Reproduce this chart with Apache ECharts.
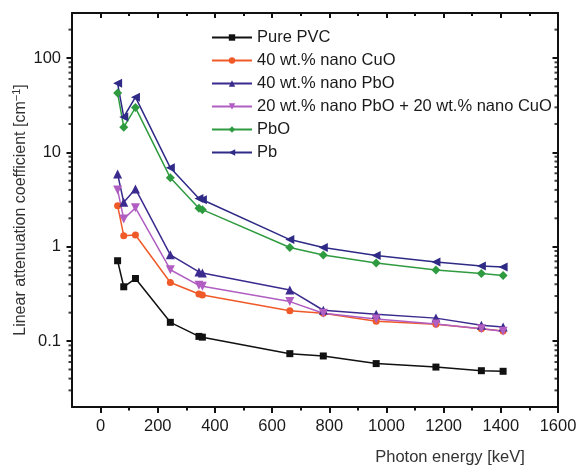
<!DOCTYPE html>
<html>
<head>
<meta charset="utf-8">
<script src="https://cdn.jsdelivr.net/npm/echarts@6/dist/echarts.min.js"></script>
<style>html,body{margin:0;padding:0;background:#fff;}#c{width:577px;height:466px;}</style>
</head>
<body>
<div id="c"></div>
<script>
// ---- data ----
const energies = [59.5, 81, 122, 244, 344, 356, 662, 779, 964, 1173, 1332, 1408];
const purePVC = [0.71, 0.376, 0.46, 0.158, 0.112, 0.110, 0.0735, 0.0695, 0.0577, 0.053, 0.0485, 0.0478];
const cuo40 = [2.72, 1.31, 1.33, 0.418, 0.315, 0.307, 0.209, 0.197, 0.162, 0.151, 0.135, 0.128];
const pbo40 = [5.9, 2.96, 4.1, 0.82, 0.54, 0.525, 0.347, 0.212, 0.192, 0.175, 0.147, 0.141];
const mix2020 = [4.0, 1.97, 2.58, 0.57, 0.39, 0.38, 0.262, 0.197, 0.171, 0.152, 0.135, 0.127];
const pbo = [42.5, 18.5, 29.8, 5.37, 2.55, 2.47, 0.98, 0.816, 0.671, 0.565, 0.521, 0.496];
const pb = [54, 23.7, 38.5, 6.86, 3.25, 3.15, 1.19, 0.98, 0.808, 0.688, 0.624, 0.608];

const seriesNames = ['Pure PVC', '40 wt.% nano CuO', '40 wt.% nano PbO',
  '20 wt.% nano PbO + 20 wt.% nano CuO', 'PbO', 'Pb'];

const xTickLabels = [0, 200, 400, 600, 800, 1000, 1200, 1400, 1600];
const xMinorTicks = [100, 300, 500, 700, 900, 1100, 1300, 1500];
const yTickLabels = [0.1, 1, 10, 100];
const yMinorTicks = [0.03, 0.04, 0.05, 0.06, 0.07, 0.08, 0.09,
  0.2, 0.3, 0.4, 0.5, 0.6, 0.7, 0.8, 0.9,
  2, 3, 4, 5, 6, 7, 8, 9,
  20, 30, 40, 50, 60, 70, 80, 90, 200];

const X_MIN = -100, X_MAX = 1600, Y_MIN = 0.02, Y_MAX = 300;
const FONT = '"Liberation Sans", Arial, Helvetica, sans-serif';
const INK = '#111111';

function pairs(vals) { return energies.map((e, i) => [e, vals[i]]); }

const styles = [
  { color: '#111111', symbol: 'rect', size: 7, rotate: 0 },
  { color: '#f05a28', symbol: 'circle', size: 7, rotate: 0 },
  { color: '#3b2b8e', symbol: 'triangle', size: 9, rotate: 0 },
  { color: '#b05ec2', symbol: 'triangle', size: 9, rotate: 180 },
  { color: '#2f9b40', symbol: 'diamond', size: 9, rotate: 0 },
  { color: '#2e2a86', symbol: 'triangle', size: 9, rotate: 90 }
];
const dataSets = [purePVC, cuo40, pbo40, mix2020, pbo, pb];

const lineSeries = dataSets.map((d, i) => ({
  name: seriesNames[i],
  type: 'line',
  xAxisIndex: 0, yAxisIndex: 0,
  data: pairs(d),
  symbol: styles[i].symbol,
  symbolSize: styles[i].size,
  symbolRotate: styles[i].rotate,
  showAllSymbol: true,
  lineStyle: { color: styles[i].color, width: 1.5 },
  itemStyle: { color: styles[i].color },
  emphasis: { disabled: true },
  animation: false
}));

// minor ticks of the log axis (left: outward, right: inward), placed through the axes' own scales
function minorTickSeries(xVal) {
  return {
    type: 'scatter',
    xAxisIndex: 0, yAxisIndex: 0,
    silent: true, clip: false, animation: false,
    data: yMinorTicks.map(v => [xVal, v]),
    symbol: 'rect',
    symbolSize: [3.5, 2],
    symbolOffset: [-1.75, 0],
    itemStyle: { color: INK },
    emphasis: { disabled: true },
    z: 5
  };
}

const chart = echarts.init(document.getElementById('c'), null, { renderer: 'canvas' });
chart.setOption({
  backgroundColor: '#ffffff',
  animation: false,
  textStyle: { fontFamily: FONT },
  grid: { left: 72, right: 19, top: 13, bottom: 59, containLabel: false, outerBoundsMode: 'none' },
  legend: {
    data: seriesNames,
    orient: 'vertical',
    left: 206,
    top: 24,
    itemWidth: 40,
    itemHeight: 8,
    itemGap: 6,
    selectedMode: false,
    textStyle: { fontSize: 16.5, color: '#1a1a1a', fontFamily: FONT, lineHeight: 16 }
  },
  xAxis: [
    {
      type: 'value', position: 'bottom', min: X_MIN, max: X_MAX, interval: 100,
      axisLine: { show: true, onZero: false, lineStyle: { color: INK, width: 2 } },
      axisTick: { show: true, inside: false, length: 6, lineStyle: { width: 2, color: INK }, customValues: xTickLabels },
      axisLabel: { customValues: xTickLabels, formatter: v => String(v), fontSize: 16.5, color: '#1a1a1a', margin: 11, fontFamily: FONT },
      splitLine: { show: false },
      name: 'Photon energy [keV]',
      nameLocation: 'middle',
      nameGap: 42,
      nameMoveOverlap: false,
      nameTextStyle: { fontSize: 16.5, color: '#333', fontFamily: FONT, padding: [0, 0, 0, 270] }
    },
    {
      type: 'value', position: 'top', min: X_MIN, max: X_MAX, interval: 100,
      axisLine: { show: true, onZero: false, lineStyle: { color: INK, width: 2 } },
      axisTick: { show: true, inside: true, length: 5, lineStyle: { width: 2, color: INK }, customValues: xTickLabels },
      axisLabel: { show: false },
      splitLine: { show: false }
    },
    {
      type: 'value', position: 'bottom', min: X_MIN, max: X_MAX, interval: 100,
      axisLine: { show: false, onZero: false },
      axisTick: { show: true, inside: false, length: 3.5, lineStyle: { width: 2, color: INK }, customValues: xMinorTicks },
      axisLabel: { show: false },
      splitLine: { show: false }
    },
    {
      type: 'value', position: 'top', min: X_MIN, max: X_MAX, interval: 100,
      axisLine: { show: false, onZero: false },
      axisTick: { show: true, inside: true, length: 3, lineStyle: { width: 2, color: INK }, customValues: xMinorTicks },
      axisLabel: { show: false },
      splitLine: { show: false }
    }
  ],
  yAxis: [
    {
      type: 'log', logBase: 10, position: 'left', min: Y_MIN, max: Y_MAX,
      axisLine: { show: true, onZero: false, lineStyle: { color: INK, width: 2 } },
      axisTick: { show: true, inside: false, length: 5.5, lineStyle: { width: 2, color: INK } },
      axisLabel: { fontSize: 16.5, color: '#1a1a1a', margin: 11, showMinLabel: false, showMaxLabel: false, fontFamily: FONT },
      splitLine: { show: false },
      name: 'Linear attenuation coefficient [cm{sup|−1}]',
      nameLocation: 'middle',
      nameGap: 42,
      nameMoveOverlap: false,
      nameRotate: 90,
      nameTextStyle: {
        fontSize: 16, color: '#333', fontFamily: FONT,
        rich: { sup: { fontSize: 11, verticalAlign: 'bottom', padding: [0, 0, 8, 0], color: '#333', fontFamily: FONT } }
      }
    },
    {
      type: 'log', logBase: 10, position: 'right', min: Y_MIN, max: Y_MAX,
      axisLine: { show: true, onZero: false, lineStyle: { color: INK, width: 2 } },
      axisTick: { show: true, inside: true, length: 5.5, lineStyle: { width: 2, color: INK } },
      axisLabel: { show: false },
      splitLine: { show: false }
    }
  ],
  series: lineSeries.concat([minorTickSeries(X_MIN), minorTickSeries(X_MAX)])
});
</script>
</body>
</html>
